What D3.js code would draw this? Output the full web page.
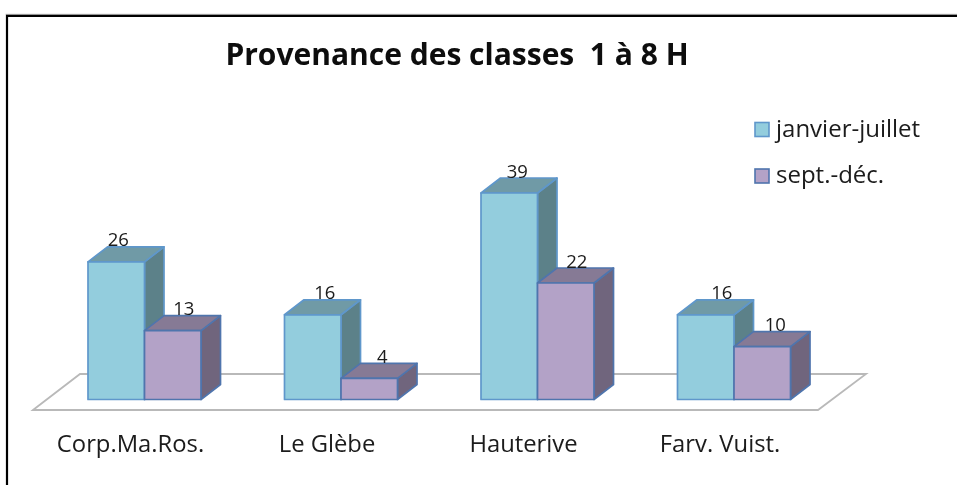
<!DOCTYPE html>
<html><head><meta charset="utf-8">
<script src="https://cdn.jsdelivr.net/npm/d3@7"></script>
<style>html,body{margin:0;padding:0;background:#fff}svg{display:block}text{font-family:"Open Sans",sans-serif;fill:#1a1a1a}</style>
</head><body><div id="chart"></div>
<script>
const categories = ["Corp.Ma.Ros.", "Le Glèbe", "Hauterive", "Farv. Vuist."];
const seriesNames = ["janvier-juillet", "sept.-déc."];
const janvierJuillet = [26, 16, 39, 16];
const septDec = [13, 4, 22, 10];
const seriesValues = [janvierJuillet, septDec];
const titleText = "Provenance des classes\u00a0\u00a01 à 8 H";

const W = 957, H = 485;
const svg = d3.select("#chart").append("svg").attr("width", W).attr("height", H);
const defs = svg.append("defs");
defs.append("filter").attr("id", "soft").append("feGaussianBlur").attr("stdDeviation", 0.45);
const root = svg.append("g").attr("filter", "url(#soft)");

// frame
root.append("path").attr("d", `M${W},14.3H5.5`).attr("fill", "none").attr("stroke", "#bbb").attr("stroke-width", 1);
root.append("path").attr("d", `M7,${H}V15.8H${W}`).attr("fill", "none").attr("stroke", "#000").attr("stroke-width", 2.2);

const x0 = d3.scaleBand().domain(categories).range([46.25, 832.25]).paddingInner(0).paddingOuter(0);
const barW = 56.5;
const x1 = d3.scaleBand().domain(seriesNames).range([x0.bandwidth() / 2 - barW, x0.bandwidth() / 2 + barW]);
const y = d3.scaleLinear().domain([0, 39]).range([399.5, 193]);
const dx = 19.5, dy = -15;

// floor
const line = d3.line();
root.append("path").attr("d", line([[33, 410], [80, 374], [866, 374], [818, 410]]) + "Z")
  .attr("fill", "#fff").attr("stroke", "#b9b9b9").attr("stroke-width", 1.8);

const styles = [
  {front: "#93cddd", top: "#6f9aa6", side: "#5c8189", stroke: "#5f97cb"},
  {front: "#b3a2c7", top: "#867a95", side: "#70657d", stroke: "#4f74ad"}
];

// horizontal nudge of each value label from its bar's centre, series by series
const labelNudge = [[2, 12, 8, 16], [11, 13, 11, 13]];

const pts = [];
categories.forEach((c, i) => seriesNames.forEach((s, j) => pts.push({c, s, j, i, v: seriesValues[j][i]})));
const bars = root.selectAll("g.bar").data(pts).join("g").attr("class", "bar");
bars.each(function (d) {
  const g = d3.select(this), st = styles[d.j];
  const l = x0(d.c) + x1(d.s), r = l + barW, t = y(d.v), b = y(0);
  g.append("path").attr("d", line([[r, b], [r + dx, b + dy], [r + dx, t + dy], [r, t]]) + "Z").attr("fill", st.side);
  g.append("path").attr("d", line([[l, t], [l + dx, t + dy], [r + dx, t + dy], [r, t]]) + "Z").attr("fill", st.top);
  g.append("rect").attr("x", l).attr("y", t).attr("width", barW).attr("height", b - t).attr("fill", st.front);
  g.selectAll("path,rect").attr("stroke", st.stroke).attr("stroke-width", 1.7).attr("stroke-linejoin", "round");
});
// value labels
root.selectAll("text.val").data(pts).join("text").attr("class", "val")
  .attr("x", d => x0(d.c) + x1(d.s) + barW / 2 + labelNudge[d.j][d.i])
  .attr("y", d => y(d.v) - 15.5)
  .attr("text-anchor", "middle").attr("font-size", 18.5).text(d => d.v);

// category labels via axis
const axis = d3.axisBottom(x0).tickSize(0).tickPadding(0);
const ag = root.append("g").attr("transform", "translate(-14,435)").call(axis);
ag.select(".domain").remove();
ag.selectAll("text").style("font-family", '"Open Sans",sans-serif').style("fill", "#1a1a1a").attr("font-size", 23.8);

// title
root.append("text").attr("x", 457).attr("y", 65).attr("text-anchor", "middle")
  .attr("font-size", 30).attr("font-weight", 700).style("fill", "#0a0a0a").text(titleText);

// legend
const legendY = [129.5, 176];
seriesNames.forEach((n, j) => {
  root.append("rect").attr("x", 755).attr("y", legendY[j] - 7).attr("width", 14).attr("height", 14)
    .attr("fill", styles[j].front).attr("stroke", styles[j].stroke).attr("stroke-width", 1.6);
  root.append("text").attr("x", 776).attr("y", legendY[j] + 7).attr("font-size", 24).text(n);
});
</script></body></html>
